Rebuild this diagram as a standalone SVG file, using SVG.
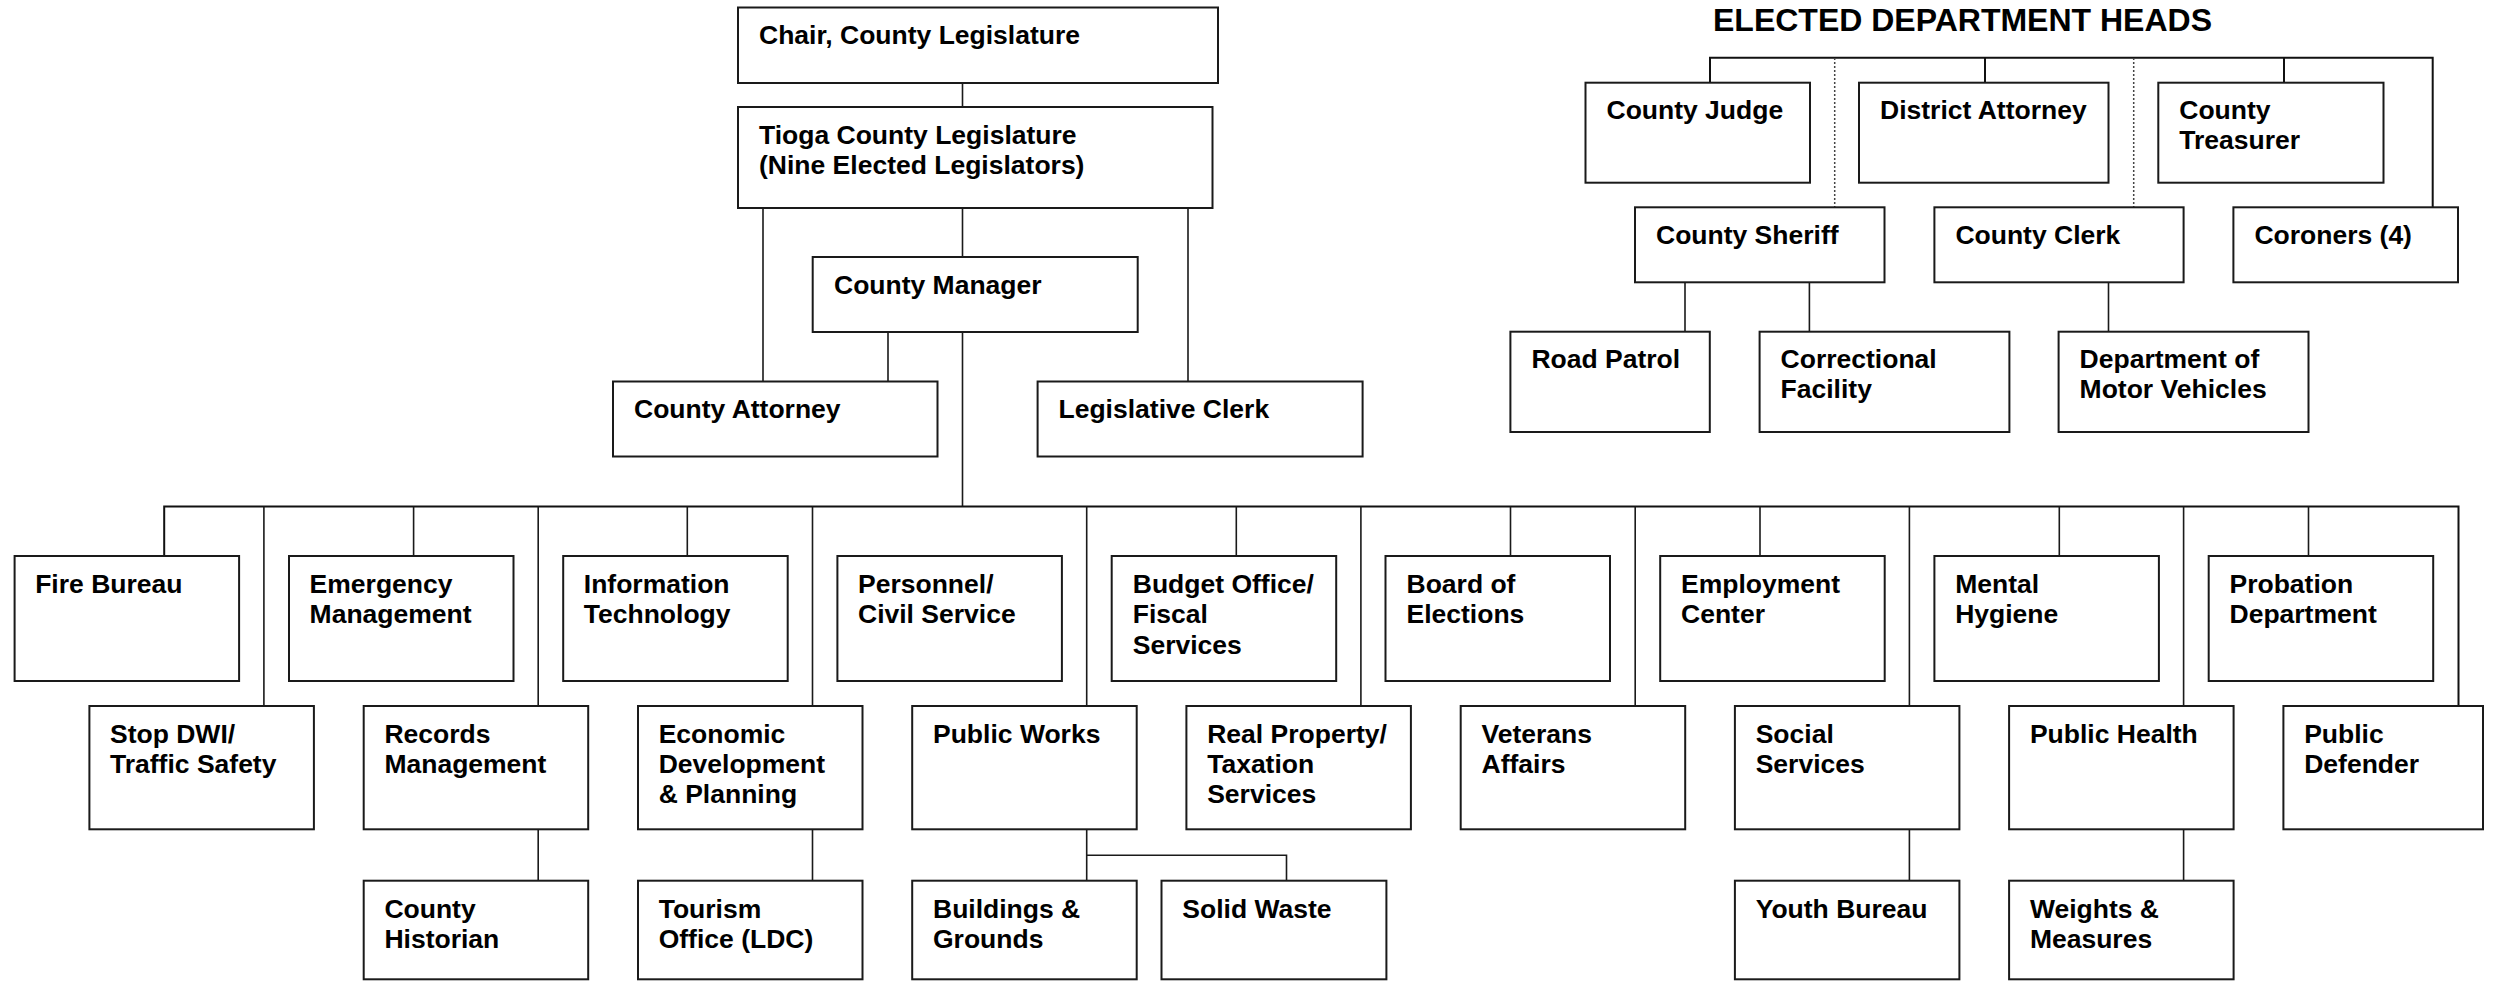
<svg xmlns="http://www.w3.org/2000/svg" width="2495" height="981" viewBox="0 0 2495 981">
<style>
.box{fill:#fff;stroke:#1a1a1a;stroke-width:2}
.t{font-family:"Liberation Sans",Arial,sans-serif;font-weight:bold;font-size:26.5px;fill:#000}
.title{font-family:"Liberation Sans",Arial,sans-serif;font-weight:bold;font-size:32px;fill:#000}
.c{fill:none;stroke:#1a1a1a;stroke-width:1.6}
.cb{fill:none;stroke:#111;stroke-width:2}
.d{fill:none;stroke:#444;stroke-width:1.5;stroke-dasharray:2 2}
</style>
<rect width="2495" height="981" fill="#fff"/>
<g id="connectors">
<path class="c" d="M962.5 83V107M962.5 208V257M763 208V381.5M1188 208V381.5M888 332V381.5M962.5 332V506.5"/>
<path class="cb" d="M1710 82.7V57.7H2432.7V207.3M1985 57.7V82.7M2284 57.7V82.7"/>
<path class="d" d="M1834.7 58V207M2133.7 58V207"/>
<path class="c" d="M1685 282.3V331.7M1809.4 282.3V331.7M2108.5 282.3V331.7"/>
<path class="cb" d="M164.2 556V506.5H2458.5V706"/>
<path class="c" d="M413.6 506.5V556M687.3 506.5V556M1236.3 506.5V556M1510.5 506.5V556M1760 506.5V556M2059.3 506.5V556M2308.5 506.5V556"/>
<path class="c" d="M263.9 506.5V706M538.2 506.5V706M812.5 506.5V706M1086.7 506.5V706M1360.9 506.5V706M1635.2 506.5V706M1909.4 506.5V706M2183.6 506.5V706"/>
<path class="c" d="M538.2 829.3V880.7M812.5 829.3V880.7M1909.4 829.3V880.7M2183.6 829.3V880.7M1086.7 829.3V880.7M1086.7 855.3H1286.5V880.7"/>
</g>
<g id="chair"><rect class="box" x="738" y="7.5" width="480" height="75.5"/><text class="t" x="759" y="44">Chair, County Legislature</text></g>
<g id="legislature"><rect class="box" x="738" y="107" width="474.5" height="101"/><text class="t" x="759" y="143.5">Tioga County Legislature<tspan x="759" dy="30.5">(Nine Elected Legislators)</tspan></text></g>
<g id="manager"><rect class="box" x="812.7" y="257" width="325" height="75"/><text class="t" x="834" y="293.5">County Manager</text></g>
<g id="attorney"><rect class="box" x="613" y="381.5" width="324.5" height="75"/><text class="t" x="634" y="418">County Attorney</text></g>
<g id="legclerk"><rect class="box" x="1037.6" y="381.5" width="325" height="75"/><text class="t" x="1058.5" y="418">Legislative Clerk</text></g>

<text class="title" x="1713" y="31">ELECTED DEPARTMENT HEADS</text>
<g id="judge"><rect class="box" x="1585.5" y="82.7" width="224.5" height="100"/><text class="t" x="1606.5" y="118.5">County Judge</text></g>
<g id="da"><rect class="box" x="1859" y="82.7" width="249.5" height="100"/><text class="t" x="1880" y="118.5">District Attorney</text></g>
<g id="treasurer"><rect class="box" x="2158.3" y="82.7" width="225.2" height="100"/><text class="t" x="2179.3" y="118.5">County<tspan x="2179.3" dy="30.3">Treasurer</tspan></text></g>
<g id="sheriff"><rect class="box" x="1635" y="207.3" width="249.5" height="75"/><text class="t" x="1656" y="243.5">County Sheriff</text></g>
<g id="clerk"><rect class="box" x="1934.4" y="207.3" width="249.2" height="75"/><text class="t" x="1955.4" y="243.5">County Clerk</text></g>
<g id="coroners"><rect class="box" x="2233.4" y="207.3" width="224.6" height="75"/><text class="t" x="2254.4" y="243.5">Coroners (4)</text></g>
<g id="roadpatrol"><rect class="box" x="1510.4" y="331.7" width="199.4" height="100.3"/><text class="t" x="1531.4" y="368">Road Patrol</text></g>
<g id="correctional"><rect class="box" x="1759.6" y="331.7" width="249.8" height="100.3"/><text class="t" x="1780.6" y="368">Correctional<tspan x="1780.6" dy="30.3">Facility</tspan></text></g>
<g id="dmv"><rect class="box" x="2058.6" y="331.7" width="249.9" height="100.3"/><text class="t" x="2079.6" y="368">Department of<tspan x="2079.6" dy="30.3">Motor Vehicles</tspan></text></g>

<g id="fire"><rect class="box" x="14.6" y="556" width="224.5" height="125"/><text class="t" x="35.2" y="593">Fire Bureau</text></g>
<g id="emergency"><rect class="box" x="289" y="556" width="224.5" height="125"/><text class="t" x="309.6" y="593">Emergency<tspan x="309.6" dy="30.3">Management</tspan></text></g>
<g id="it"><rect class="box" x="563.2" y="556" width="224.5" height="125"/><text class="t" x="583.8" y="593">Information<tspan x="583.8" dy="30.3">Technology</tspan></text></g>
<g id="personnel"><rect class="box" x="837.4" y="556" width="224.5" height="125"/><text class="t" x="858" y="593">Personnel/<tspan x="858" dy="30.3">Civil Service</tspan></text></g>
<g id="budget"><rect class="box" x="1111.7" y="556" width="224.5" height="125"/><text class="t" x="1132.8" y="593">Budget Office/<tspan x="1132.8" dy="30.3">Fiscal</tspan><tspan x="1132.8" dy="30.3">Services</tspan></text></g>
<g id="elections"><rect class="box" x="1385.5" y="556" width="224.5" height="125"/><text class="t" x="1406.5" y="593">Board of<tspan x="1406.5" dy="30.3">Elections</tspan></text></g>
<g id="employment"><rect class="box" x="1660.2" y="556" width="224.5" height="125"/><text class="t" x="1681" y="593">Employment<tspan x="1681" dy="30.3">Center</tspan></text></g>
<g id="mental"><rect class="box" x="1934.4" y="556" width="224.5" height="125"/><text class="t" x="1955.2" y="593">Mental<tspan x="1955.2" dy="30.3">Hygiene</tspan></text></g>
<g id="probation"><rect class="box" x="2208.7" y="556" width="224.5" height="125"/><text class="t" x="2229.5" y="593">Probation<tspan x="2229.5" dy="30.3">Department</tspan></text></g>

<g id="stopdwi"><rect class="box" x="89.4" y="706" width="224.5" height="123.3"/><text class="t" x="110" y="742.5">Stop DWI/<tspan x="110" dy="30.3">Traffic Safety</tspan></text></g>
<g id="records"><rect class="box" x="363.7" y="706" width="224.5" height="123.3"/><text class="t" x="384.4" y="742.5">Records<tspan x="384.4" dy="30.3">Management</tspan></text></g>
<g id="econ"><rect class="box" x="638" y="706" width="224.5" height="123.3"/><text class="t" x="658.7" y="742.5">Economic<tspan x="658.7" dy="30.3">Development</tspan><tspan x="658.7" dy="30.3">&amp; Planning</tspan></text></g>
<g id="publicworks"><rect class="box" x="912.2" y="706" width="224.5" height="123.3"/><text class="t" x="933" y="742.5">Public Works</text></g>
<g id="realproperty"><rect class="box" x="1186.4" y="706" width="224.5" height="123.3"/><text class="t" x="1207.2" y="742.5">Real Property/<tspan x="1207.2" dy="30.3">Taxation</tspan><tspan x="1207.2" dy="30.3">Services</tspan></text></g>
<g id="veterans"><rect class="box" x="1460.7" y="706" width="224.5" height="123.3"/><text class="t" x="1481.5" y="742.5">Veterans<tspan x="1481.5" dy="30.3">Affairs</tspan></text></g>
<g id="social"><rect class="box" x="1734.9" y="706" width="224.5" height="123.3"/><text class="t" x="1755.7" y="742.5">Social<tspan x="1755.7" dy="30.3">Services</tspan></text></g>
<g id="publichealth"><rect class="box" x="2009.1" y="706" width="224.5" height="123.3"/><text class="t" x="2029.9" y="742.5">Public Health</text></g>
<g id="defender"><rect class="box" x="2283.4" y="706" width="199.6" height="123.3"/><text class="t" x="2304.2" y="742.5">Public<tspan x="2304.2" dy="30.3">Defender</tspan></text></g>

<g id="historian"><rect class="box" x="363.7" y="880.7" width="224.5" height="98.6"/><text class="t" x="384.4" y="917.5">County<tspan x="384.4" dy="30.3">Historian</tspan></text></g>
<g id="tourism"><rect class="box" x="638" y="880.7" width="224.5" height="98.6"/><text class="t" x="658.7" y="917.5">Tourism<tspan x="658.7" dy="30.3">Office (LDC)</tspan></text></g>
<g id="buildings"><rect class="box" x="912.2" y="880.7" width="224.5" height="98.6"/><text class="t" x="933" y="917.5">Buildings &amp;<tspan x="933" dy="30.3">Grounds</tspan></text></g>
<g id="solidwaste"><rect class="box" x="1161.5" y="880.7" width="224.9" height="98.6"/><text class="t" x="1182.3" y="917.5">Solid Waste</text></g>
<g id="youth"><rect class="box" x="1734.9" y="880.7" width="224.5" height="98.6"/><text class="t" x="1755.7" y="917.5">Youth Bureau</text></g>
<g id="weights"><rect class="box" x="2009.1" y="880.7" width="224.5" height="98.6"/><text class="t" x="2029.9" y="917.5">Weights &amp;<tspan x="2029.9" dy="30.3">Measures</tspan></text></g>
</svg>
